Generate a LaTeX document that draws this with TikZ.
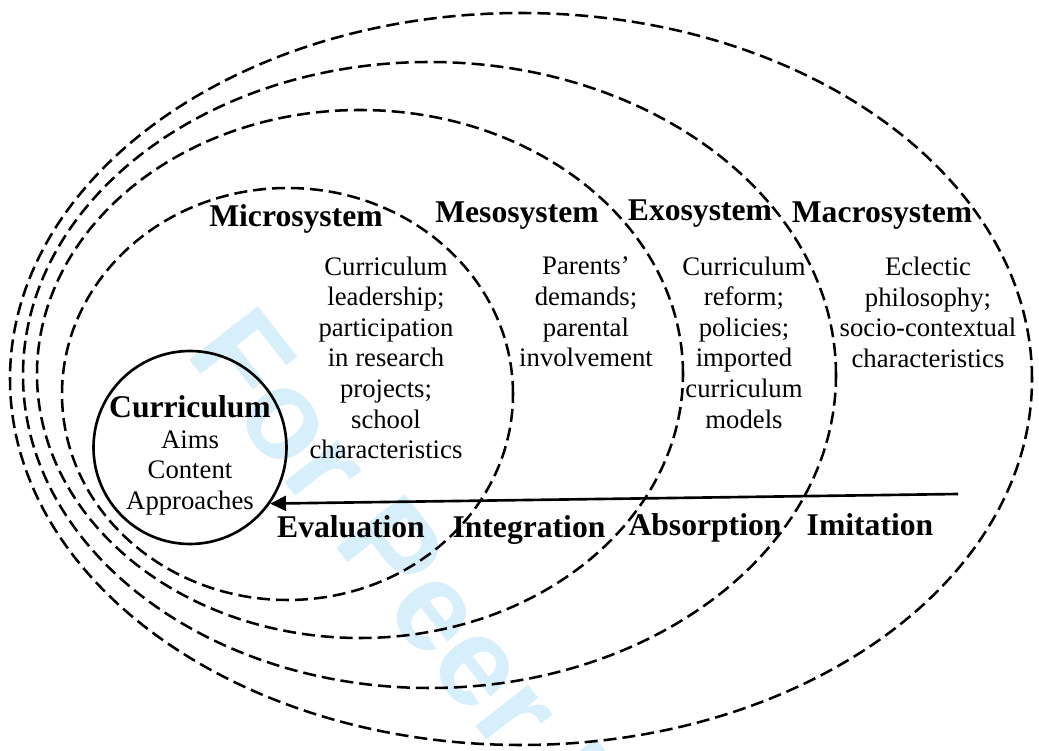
\documentclass[tikz,border=0pt]{standalone}
\usepackage{fontspec}
\setmainfont{Liberation Serif}
\newfontfamily\peerfont{Liberation Sans}
\usepackage{xcolor}
\usepackage{tikz}
\usetikzlibrary{shapes.geometric}
\usetikzlibrary{arrows.meta}
\definecolor{peercyan}{RGB}{214,239,251}
\tikzset{
systemellipse/.style={ellipse, draw=black!100, fill=none, line width=0.72pt, dash pattern=on 3.7pt off 1.7pt, inner sep=0pt},
currcircle/.style={circle, draw=black!100, fill=none, line width=0.75pt, inner sep=0pt, minimum size=1.93cm},
systemlabel/.style={font=\fontsize{9pt}{10.8pt}\selectfont\bfseries, inner sep=0pt, anchor=base},
bodytext/.style={font=\fontsize{7.6pt}{8.7pt}\selectfont, align=center, inner sep=0pt, anchor=north},
peerstamp/.style={font=\peerfont\fontsize{36pt}{40pt}\selectfont\bfseries, text=peercyan, inner sep=0pt, anchor=base west, rotate=-52},
}

\begin{document}
\begin{tikzpicture}
    \useasboundingbox (0,0) rectangle (10.39,-7.51);
    \node[peerstamp] at (1.84,-3.53) (stamp) {For Peer Review};
    \node[systemellipse, minimum width=10.22cm, minimum height=7.32cm] at (5.21,-3.79) (macro) {};
    \node[systemellipse, minimum width=8.13cm, minimum height=6.26cm] at (4.295,-3.75) (exo) {};
    \node[systemellipse, minimum width=6.46cm, minimum height=5.28cm] at (3.60,-3.74) (meso) {};
    \node[systemellipse, minimum width=4.51cm, minimum height=4.12cm] at (2.875,-3.94) (micro) {};
    \node[currcircle] at (1.90,-4.475) (curr) {};
    \node[bodytext] at (1.90,-3.95) (currtext) {{\fontsize{9pt}{10.8pt}\selectfont\bfseries Curriculum}\\Aims\\Content\\Approaches};
    \node[systemlabel] at (2.96,-2.27) (microlabel) {Microsystem};
    \node[systemlabel] at (5.17,-2.23) (mesolabel) {Mesosystem};
    \node[systemlabel] at (7.00,-2.21) (exolabel) {Exosystem};
    \node[systemlabel] at (8.82,-2.23) (macrolabel) {Macrosystem};
    \node[bodytext] at (3.86,-2.56) (microtext) {Curriculum\\leadership;\\participation\\in research\\projects;\\school\\characteristics};
    \node[bodytext] at (5.86,-2.565) (mesotext) {Parents’\\demands;\\parental\\involvement};
    \node[bodytext] at (7.44,-2.56) (exotext) {Curriculum\\reform;\\policies;\\imported\\curriculum\\models};
    \node[bodytext] at (9.28,-2.565) (macrotext) {Eclectic\\philosophy;\\socio-contextual\\characteristics};
    \node[systemlabel] at (3.51,-5.38) (evaluation) {Evaluation};
    \node[systemlabel] at (5.29,-5.38) (integration) {Integration};
    \node[systemlabel] at (7.05,-5.36) (absorption) {Absorption};
    \node[systemlabel] at (8.70,-5.36) (imitation) {Imitation};
    \coordinate (src) at (9.58,-4.94);
    \draw[line width=0.75pt, -{Triangle[length=4.5pt,width=4.2pt]}] (src) -- (curr.-35);
\end{tikzpicture}
\end{document}
